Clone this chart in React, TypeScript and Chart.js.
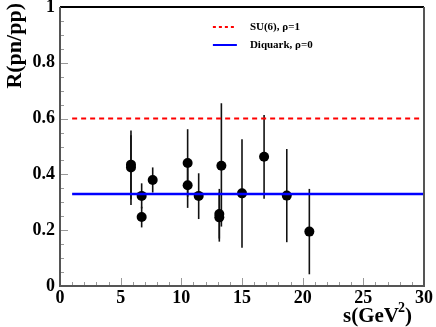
import React, { useEffect, useRef } from "react";
import { Chart, registerables } from "chart.js";

Chart.register(...registerables);

// ---- data ----
const sValues = [5.85, 5.85, 6.73, 6.73, 7.64, 10.52, 10.52, 11.43, 13.13, 13.13, 13.3, 15.0, 16.82, 18.69, 20.55];
const rValues = [0.435, 0.425, 0.323, 0.247, 0.38, 0.441, 0.361, 0.323, 0.258, 0.246, 0.431, 0.332, 0.463, 0.324, 0.195];
const rLow = [0.31, 0.29, 0.278, 0.21, 0.335, 0.32, 0.28, 0.24, 0.17, 0.159, 0.213, 0.137, 0.313, 0.157, 0.042];
const rHigh = [0.557, 0.54, 0.368, 0.284, 0.425, 0.562, 0.44, 0.404, 0.348, 0.335, 0.655, 0.526, 0.613, 0.491, 0.348];

const lineS = [1, 30];
const su6Value = 0.6;
const diquarkValue = 0.33;

const su6Label = "SU(6), ρ=1";
const diquarkLabel = "Diquark, ρ=0";
const yTitle = "R(pn/pp)";
const xTitleMain = "s(GeV";
const xTitleSup = "2";
const xTitleEnd = ")";

const xMin = 0, xMax = 30, xMajor = 5, xMinor = 1;
const yMin = 0, yMax = 1, yMajor = 0.2, yMinor = 0.05;

const FONT = "'Liberation Serif', 'Times New Roman', serif";

export default function App() {
  const ref = useRef<HTMLCanvasElement | null>(null);

  useEffect(() => {
    document.body.style.margin = "0";
    const canvas = ref.current;
    if (!canvas) return;

    const decor = {
      id: "decor",
      beforeDatasetsDraw(chart: any) {
        const ctx = chart.ctx;
        const xs = chart.scales.x;
        const ys = chart.scales.y;
        ctx.save();
        ctx.strokeStyle = "#111";
        ctx.lineWidth = 1.6;
        for (let i = 0; i < sValues.length; i++) {
          const px = xs.getPixelForValue(sValues[i]);
          ctx.beginPath();
          ctx.moveTo(px, ys.getPixelForValue(rLow[i]));
          ctx.lineTo(px, ys.getPixelForValue(rHigh[i]));
          ctx.stroke();
        }
        ctx.restore();
      },
      afterDraw(chart: any) {
        const ctx = chart.ctx;
        const { left, right, top, bottom } = chart.chartArea;
        const xs = chart.scales.x;
        const ys = chart.scales.y;
        ctx.save();
        // ticks
        ctx.strokeStyle = "#999";
        ctx.lineWidth = 1;
        for (let v = xMin; v <= xMax + 1e-9; v += xMinor) {
          const px = Math.round(xs.getPixelForValue(v)) + 0.5;
          const major = Math.abs(v / xMajor - Math.round(v / xMajor)) < 1e-6;
          ctx.beginPath();
          ctx.moveTo(px, bottom);
          ctx.lineTo(px, bottom - (major ? 8 : 4));
          ctx.stroke();
        }
        for (let v = yMin; v <= yMax + 1e-9; v += yMinor) {
          const py = Math.round(ys.getPixelForValue(v)) + 0.5;
          const major = Math.abs(v / yMajor - Math.round(v / yMajor)) < 1e-6;
          ctx.beginPath();
          ctx.moveTo(left, py);
          ctx.lineTo(left + (major ? 8 : 4), py);
          ctx.stroke();
        }
        // frame
        ctx.lineWidth = 2;
        ctx.strokeStyle = "#000";
        ctx.beginPath();
        ctx.moveTo(left, top);
        ctx.lineTo(right, top);
        ctx.stroke();
        ctx.strokeStyle = "#555";
        ctx.beginPath();
        ctx.moveTo(left, top);
        ctx.lineTo(left, bottom);
        ctx.lineTo(right, bottom);
        ctx.lineTo(right, top);
        ctx.stroke();

        // legend
        const lx0 = left + (right - left) * 0.42;
        const lx1 = lx0 + 24;
        const tx = lx0 + 37;
        const ly1 = top + 20;
        const ly2 = top + 38;
        ctx.lineWidth = 2;
        ctx.strokeStyle = "#ff0000";
        ctx.setLineDash([3, 3]);
        ctx.beginPath();
        ctx.moveTo(lx0, ly1);
        ctx.lineTo(lx1, ly1);
        ctx.stroke();
        ctx.setLineDash([]);
        ctx.strokeStyle = "#0000ff";
        ctx.beginPath();
        ctx.moveTo(lx0, ly2);
        ctx.lineTo(lx1, ly2);
        ctx.stroke();
        ctx.fillStyle = "#000";
        ctx.font = `bold 11px ${FONT}`;
        ctx.textBaseline = "middle";
        ctx.textAlign = "left";
        ctx.fillText(su6Label, tx, ly1);
        ctx.fillText(diquarkLabel, tx, ly2);

        // y title
        ctx.save();
        ctx.translate(21, 3);
        ctx.rotate(-Math.PI / 2);
        ctx.font = `bold 22px ${FONT}`;
        ctx.textAlign = "right";
        ctx.textBaseline = "alphabetic";
        ctx.fillText(yTitle, 0, 0);
        ctx.restore();

        // x title
        ctx.font = `bold 21px ${FONT}`;
        ctx.textBaseline = "alphabetic";
        ctx.textAlign = "left";
        const endW = ctx.measureText(xTitleEnd).width;
        ctx.font = `bold 14px ${FONT}`;
        const supW = ctx.measureText(xTitleSup).width;
        ctx.font = `bold 21px ${FONT}`;
        const mainW = ctx.measureText(xTitleMain).width;
        const xEnd = right - 11;
        const baseY = bottom + 36;
        const x0 = xEnd - endW - supW - mainW;
        ctx.fillText(xTitleMain, x0, baseY);
        ctx.font = `bold 14px ${FONT}`;
        ctx.fillText(xTitleSup, x0 + mainW - 1, baseY - 10);
        ctx.font = `bold 21px ${FONT}`;
        ctx.fillText(xTitleEnd, x0 + mainW + supW - 1, baseY);
        ctx.restore();
      },
    };

    const chart = new Chart(canvas, {
      type: "scatter",
      data: {
        datasets: [
          {
            label: su6Label,
            type: "line",
            data: lineS.map((s) => ({ x: s, y: su6Value })),
            borderColor: "#ff0000",
            borderWidth: 2,
            borderDash: [5, 4],
            pointRadius: 0,
            fill: false,
          },
          {
            label: diquarkLabel,
            type: "line",
            data: lineS.map((s) => ({ x: s, y: diquarkValue })),
            borderColor: "#0000ff",
            borderWidth: 2.5,
            pointRadius: 0,
            fill: false,
          },
          {
            label: "data",
            data: sValues.map((s, i) => ({ x: s, y: rValues[i] })),
            pointRadius: 5,
            pointBackgroundColor: "#000",
            pointBorderColor: "#000",
            pointBorderWidth: 0,
            showLine: false,
          },
        ],
      },
      options: {
        responsive: false,
        animation: false,
        layout: { padding: { top: 7, right: 12, left: 0, bottom: 0 } },
        plugins: {
          legend: { display: false },
          tooltip: { enabled: false },
        },
        scales: {
          x: {
            type: "linear",
            min: xMin,
            max: xMax,
            grid: { display: false, drawTicks: false },
            border: { display: false },
            ticks: {
              stepSize: xMajor,
              padding: 2,
              color: "#000",
              font: { family: FONT, size: 18, weight: "bold" },
              maxRotation: 0,
              autoSkip: false,
            },
            afterFit: (scale: any) => {
              scale.height = 41;
              scale.paddingLeft = 0;
              scale.paddingRight = 0;
            },
          },
          y: {
            type: "linear",
            min: yMin,
            max: yMax,
            grid: { display: false, drawTicks: false },
            border: { display: false },
            ticks: {
              stepSize: yMajor,
              padding: 5,
              color: "#000",
              font: { family: FONT, size: 18, weight: "bold" },
              autoSkip: false,
              callback: (v: any) => String(Math.round(Number(v) * 10) / 10),
            },
            afterFit: (scale: any) => {
              scale.width = 60;
              scale.paddingTop = 0;
              scale.paddingBottom = 0;
            },
          },
        },
      },
      plugins: [decor],
    });

    return () => chart.destroy();
  }, []);

  return (
    <div style={{ position: "absolute", left: 0, top: 0, width: 436, height: 327 }}>
      <canvas ref={ref} width={436} height={327} />
    </div>
  );
}
